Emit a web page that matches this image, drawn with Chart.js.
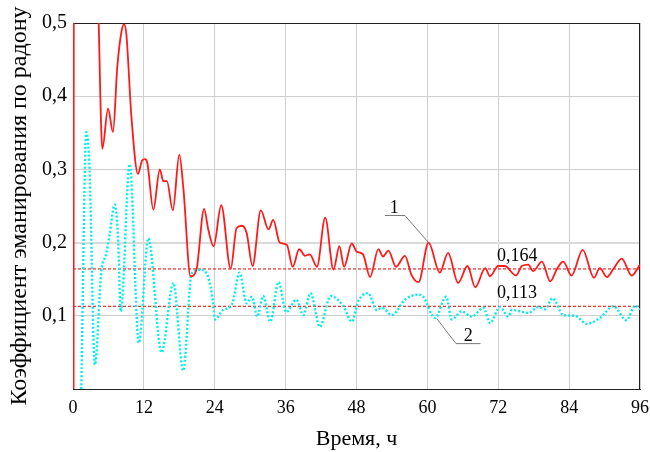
<!DOCTYPE html>
<html>
<head>
<meta charset="utf-8">
<script src="https://cdn.jsdelivr.net/npm/chart.js@4"></script>
<style>
  body { margin: 0; background: #fff; }
</style>
</head>
<body>
<canvas id="myChart" width="650" height="452"></canvas>
<script>
// Curve 1 (red) - time, h / coefficient
const time1 = [0.1, 0.14, 2, 4.0, 4.35, 4.97, 5.93, 6.77, 7.5, 8.2, 8.64, 9.03, 9.9, 11.0, 11.7, 12.2, 12.6, 13.6, 14.7, 15.3,
    15.9, 16.9, 18.0, 18.7, 19.9, 20.9, 22.2, 22.9, 23.8, 25.1, 26.7, 27.7, 28.6, 29.4, 30.4, 31.8, 33.1, 33.9, 35.0, 36.2,
    37.2, 38.3, 39.3, 40.1, 41.3, 42.7, 44.1, 45.1, 45.9, 47.2, 48.0, 49.1, 50.3, 51.7, 52.5, 53.4, 54.7, 56.2, 57.3, 58.5,
    60.2, 62.1, 63.5, 65.2, 66.8, 68.1, 69.8, 70.6, 72.0, 73.1, 75.0, 76.0, 77.1, 77.9, 79.4, 80.8, 82.0, 83.0, 84.4, 86.3,
    88.2, 89.2, 90.4, 91.5, 92.9, 94.6, 96.0]
const radon1 = [0, 0.7, 0.9, 0.62, 0.5, 0.328, 0.383, 0.351, 0.44, 0.488, 0.498, 0.485, 0.371, 0.294, 0.312, 0.314, 0.308, 0.245, 0.300, 0.284,
    0.284, 0.244, 0.320, 0.273, 0.154, 0.163, 0.246, 0.218, 0.195, 0.251, 0.164, 0.220, 0.223, 0.213, 0.168, 0.244, 0.218, 0.231, 0.200, 0.197,
    0.167, 0.191, 0.182, 0.184, 0.167, 0.234, 0.163, 0.195, 0.167, 0.199, 0.188, 0.184, 0.153, 0.191, 0.181, 0.189, 0.167, 0.182, 0.156, 0.146,
    0.200, 0.159, 0.186, 0.145, 0.168, 0.139, 0.165, 0.154, 0.168, 0.168, 0.155, 0.168, 0.170, 0.161, 0.174, 0.147, 0.165, 0.174, 0.155, 0.190,
    0.152, 0.165, 0.153, 0.164, 0.178, 0.155, 0.170]

// Curve 2 (cyan, dotted)
const time2 = [1.4, 2.25, 2.8, 3.7, 4.8, 5.6, 6.2, 7.06, 7.6, 8.1, 9.6, 11.15, 12.75, 15.0, 17.0, 18.65, 20.1, 21.5, 22.6, 23.5,
    24.1, 25.4, 26.9, 28.2, 29.4, 30.3, 31.2, 32.2, 33.4, 34.8, 36.1, 37.8, 39.0, 40.2, 41.8, 43.6, 45.8, 47.2, 48.3, 50.0,
    51.4, 52.3, 54.0, 56.2, 58.5, 59.3, 61.3, 63.2, 64.1, 65.8, 67.5, 69.5, 70.6, 72.3, 73.7, 74.3, 77.1, 78.8, 79.9, 81.2,
    83.0, 85.0, 87.0, 89.2, 91.5, 93.7, 95.2, 96.0]
const radon2 = [0, 0.351, 0.30, 0.033, 0.161, 0.184, 0.211, 0.252, 0.211, 0.106, 0.307, 0.063, 0.206, 0.050, 0.145, 0.025, 0.158, 0.163, 0.158, 0.131,
    0.095, 0.108, 0.115, 0.159, 0.117, 0.126, 0.099, 0.127, 0.092, 0.146, 0.105, 0.122, 0.101, 0.131, 0.085, 0.127, 0.113, 0.092, 0.120, 0.131,
    0.108, 0.111, 0.101, 0.122, 0.129, 0.126, 0.097, 0.126, 0.095, 0.106, 0.099, 0.111, 0.090, 0.112, 0.099, 0.108, 0.104, 0.112, 0.109, 0.124,
    0.101, 0.100, 0.089, 0.097, 0.113, 0.094, 0.114, 0.109]

// mean levels (dashed red lines)
const meanLevels = [0.164, 0.113]
const meanLabels = ['0,164', '0,113']

const xTicks = [0, 12, 24, 36, 48, 60, 72, 84, 96]
const yTickLabels = ['', '0,1', '0,2', '0,3', '0,4', '0,5']

const serif = 'Liberation Serif'

function toPoints(xs, ys) {
    return xs.map((x, i) => ({ x: x, y: ys[i] }))
}

// frame + curve labels
const decor = {
    id: 'decor',
    beforeDatasetsDraw(chart) {
        const { ctx, chartArea: a } = chart
        ctx.save()
        ctx.strokeStyle = '#222'
        ctx.lineWidth = 1
        ctx.strokeRect(a.left + 0.5, a.top + 0.5, a.width - 1, a.height)
        ctx.restore()
    },
    afterDatasetsDraw(chart) {
        const { ctx, scales } = chart
        const X = v => scales.x.getPixelForValue(v)
        const Y = v => scales.y.getPixelForValue(v)
        ctx.save()
        ctx.strokeStyle = '#555'
        ctx.lineWidth = 0.8
        // leader "1"
        ctx.beginPath()
        ctx.moveTo(X(52.8), Y(0.237)); ctx.lineTo(X(56.2), Y(0.237)); ctx.lineTo(X(60.2), Y(0.200))
        // leader "2"
        ctx.moveTo(X(61.6), Y(0.096)); ctx.lineTo(X(64.85), Y(0.062)); ctx.lineTo(X(69.0), Y(0.062))
        ctx.stroke()

        ctx.fillStyle = '#000'
        ctx.font = '18px "' + serif + '"'
        ctx.textAlign = 'center'
        ctx.textBaseline = 'alphabetic'
        ctx.fillText('1', X(54.4), Y(0.240))
        ctx.fillText('2', X(66.9), Y(0.066))
        ctx.textAlign = 'left'
        ctx.fillText(meanLabels[0], X(71.8), Y(0.175))
        ctx.fillText(meanLabels[1], X(71.8), Y(0.124))
        ctx.restore()
    }
}

const data = {
    datasets: [{
        label: '1',
        data: toPoints(time1, radon1),
        borderColor: '#ff1a1a',
        borderWidth: 1.8,
        pointRadius: 0,
        cubicInterpolationMode: 'monotone',
        order: 1
    }, {
        label: '2',
        data: toPoints(time2, radon2),
        borderColor: '#00eeee',
        borderWidth: 2.4,
        borderDash: [2, 2],
        pointRadius: 0,
        cubicInterpolationMode: 'monotone',
        order: 2
    }, {
        label: 'mean 1',
        data: [{ x: 0, y: meanLevels[0] }, { x: 96, y: meanLevels[0] }],
        borderColor: '#e00000',
        borderWidth: 1,
        borderDash: [3, 2],
        pointRadius: 0,
        order: 3
    }, {
        label: 'mean 2',
        data: [{ x: 0, y: meanLevels[1] }, { x: 96, y: meanLevels[1] }],
        borderColor: '#e00000',
        borderWidth: 1,
        borderDash: [3, 2],
        pointRadius: 0,
        order: 3
    }]
}

const config = {
    type: 'line',
    data: data,
    plugins: [decor],
    options: {
        responsive: false,
        animation: false,
        layout: {
            padding: { top: 23, right: 10, left: 0, bottom: 0 }
        },
        plugins: {
            legend: { display: false },
            tooltip: { enabled: false }
        },
        scales: {
            x: {
                type: 'linear',
                min: 0,
                max: 96,
                afterFit: scale => {
                    scale.height = 63
                    scale.paddingRight = 0
                    scale.paddingLeft = 0
                },
                afterBuildTicks: scale => { scale.ticks = xTicks.map(v => ({ value: v })) },
                grid: { color: '#cfcfcf', drawTicks: false },
                border: { color: '#222' },
                ticks: {
                    color: '#000',
                    padding: 8,
                    maxRotation: 0,
                    font: { family: serif, size: 18 }
                },
                title: {
                    display: true,
                    text: 'Время, ч',
                    color: '#000',
                    padding: { top: 0, bottom: 0 },
                    font: { family: serif, size: 22 }
                }
            },
            y: {
                min: 0,
                max: 0.5,
                afterFit: scale => { scale.width = 73 },
                grid: {
                    color: ctx => ctx.index === 2 ? '#dadada' : '#cfcfcf',
                    lineWidth: ctx => ctx.index === 2 ? 2 : 1,
                    drawTicks: false
                },
                border: { color: '#222' },
                ticks: {
                    stepSize: 0.1,
                    color: '#000',
                    padding: 6,
                    font: { family: serif, size: 20 },
                    callback: function (value, index) {
                        return yTickLabels[index]
                    }
                },
                title: {
                    display: true,
                    text: 'Коэффициент эманирования по радону',
                    color: '#000',
                    padding: { top: 5, bottom: 0 },
                    font: { family: serif, size: 24 }
                }
            }
        }
    }
}

new Chart(document.getElementById('myChart'), config)
</script>
</body>
</html>
